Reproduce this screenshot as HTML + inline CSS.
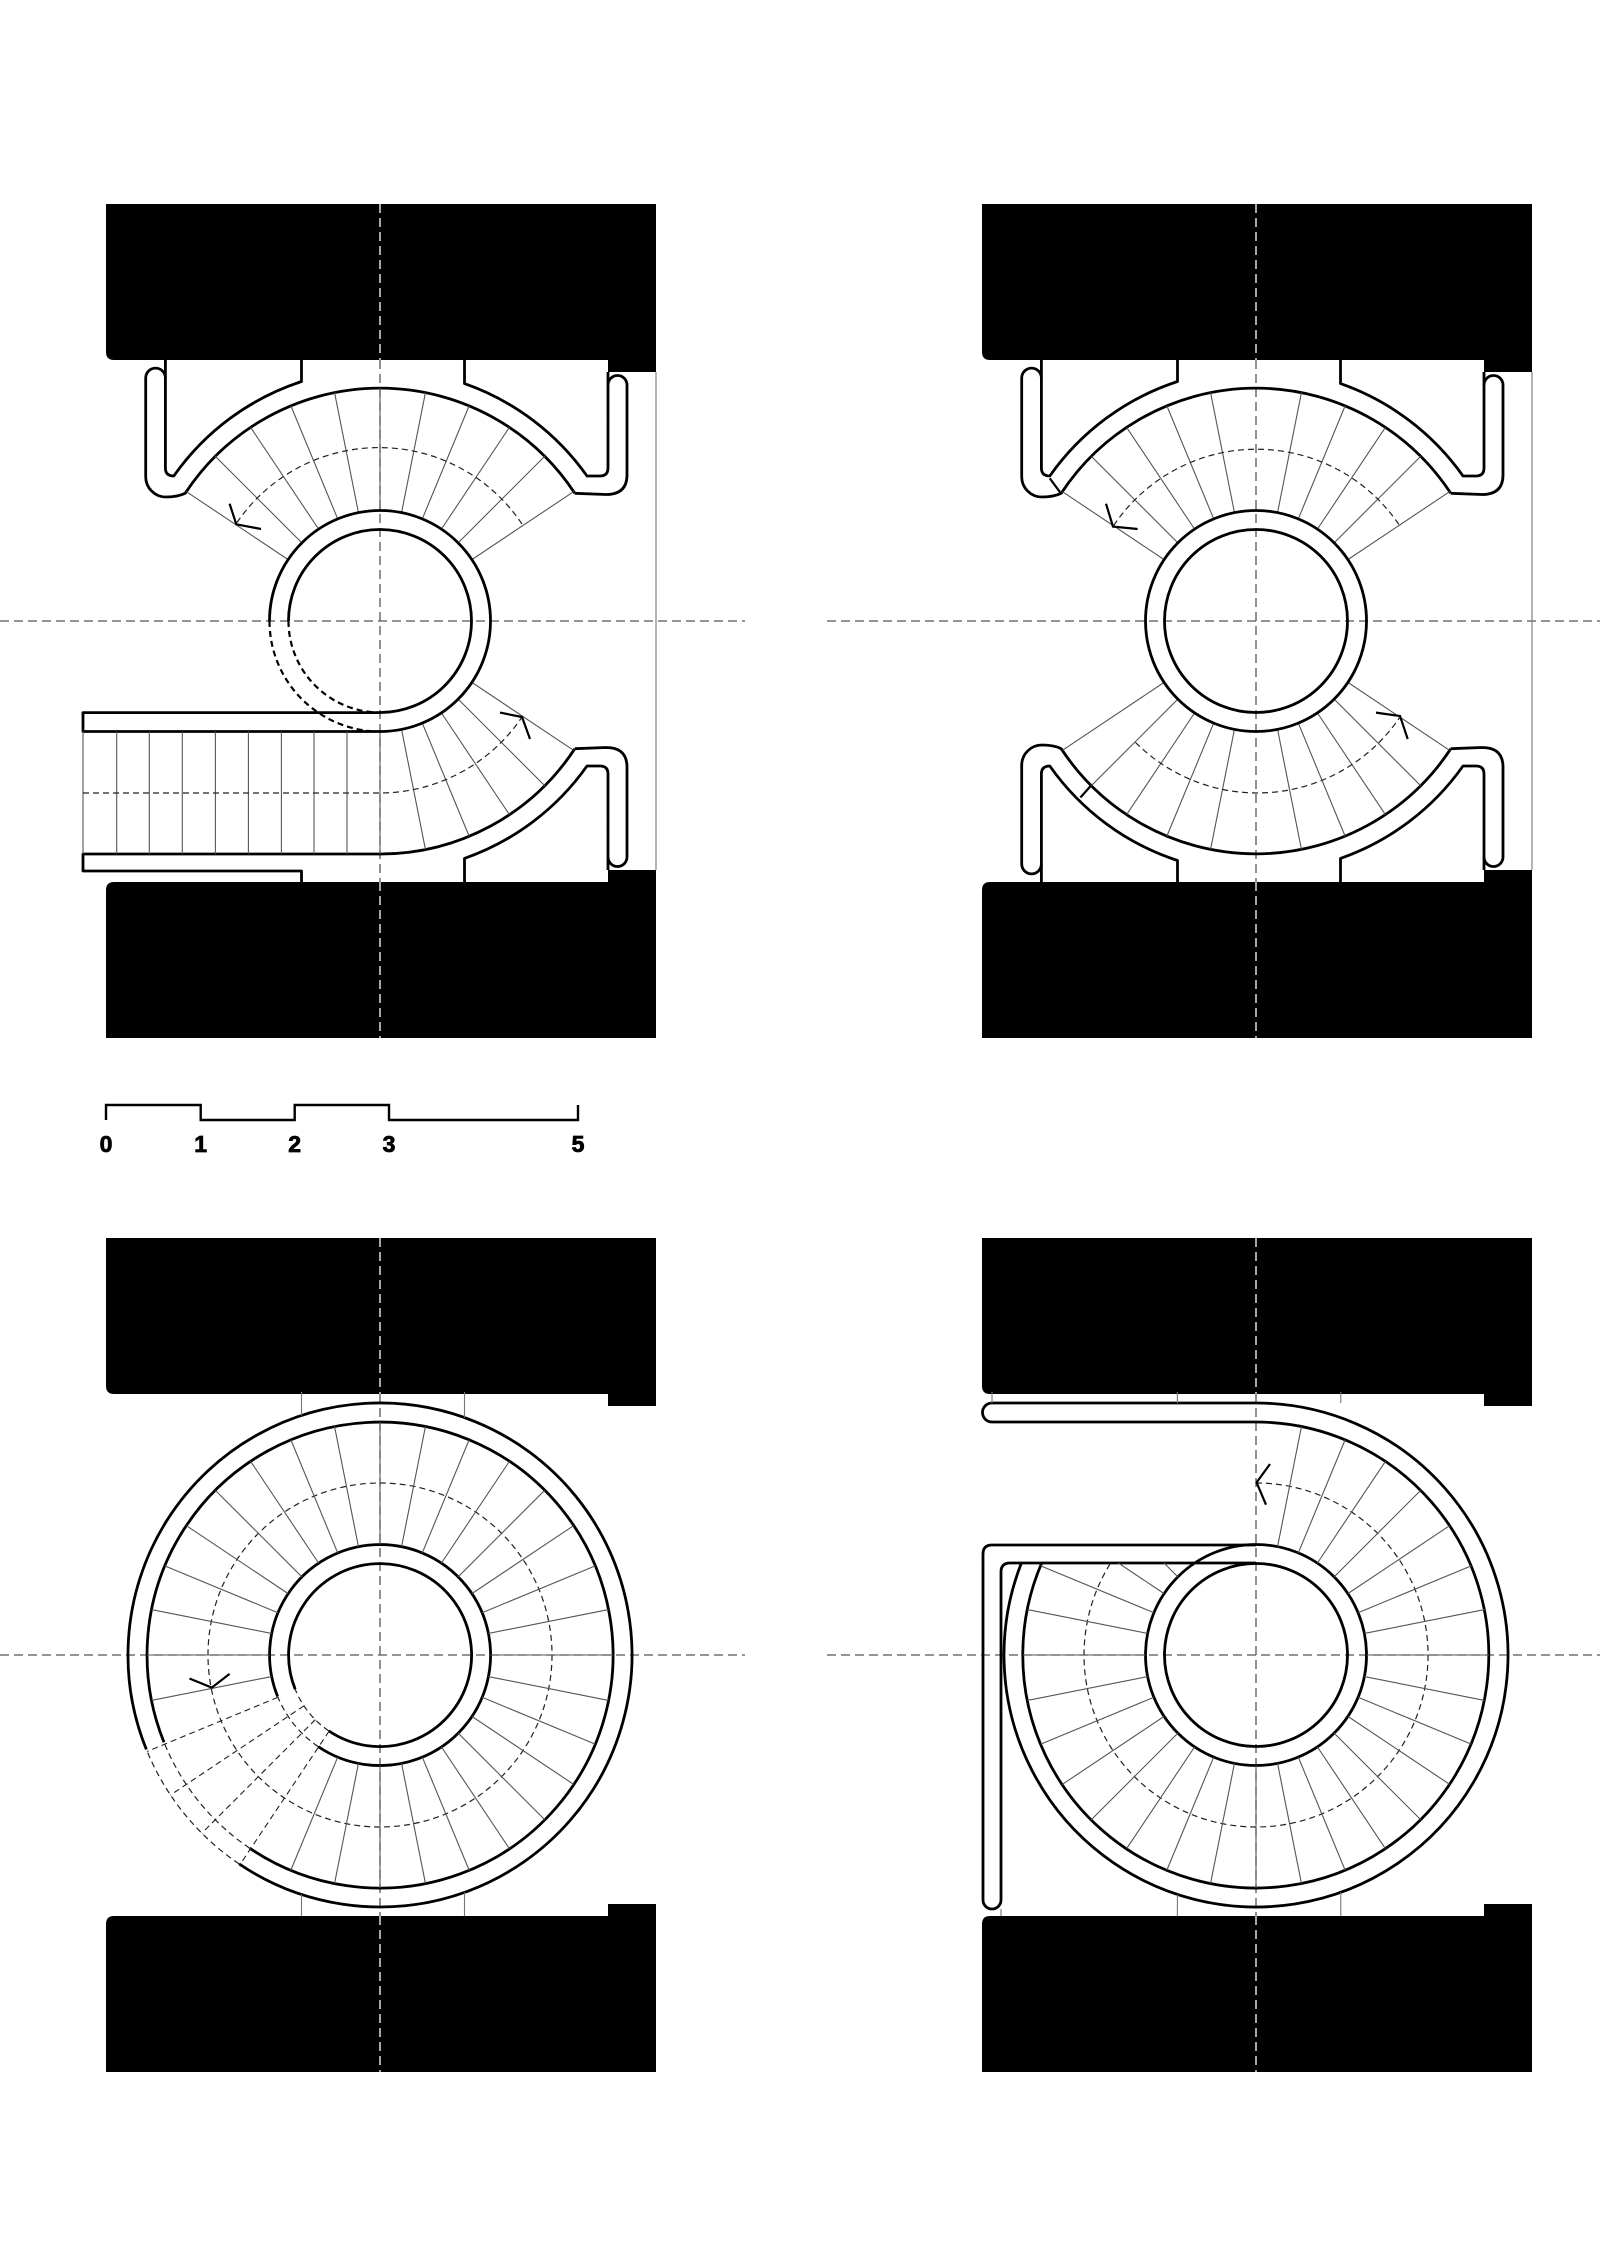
<!DOCTYPE html>
<html><head><meta charset="utf-8"><style>
html,body{margin:0;padding:0;background:#fff;}
svg{display:block;}
.w{fill:none;stroke:#000;stroke-width:2.8;stroke-linejoin:round;}
.t{stroke:#555;stroke-width:1.1;fill:none;}
.td{stroke:#222;stroke-width:1.1;fill:none;stroke-dasharray:6 4;}
.d{fill:none;stroke:#222;stroke-width:1.2;stroke-dasharray:6 4;}
.dw{fill:none;stroke:#000;stroke-width:2.2;stroke-dasharray:6 4;}
.c{stroke:#555;stroke-width:1.3;stroke-dasharray:9 5;fill:none;}
.cw{stroke:#fff;stroke-width:1.3;stroke-dasharray:9 5;fill:none;}
.a{fill:none;stroke:#000;stroke-width:2.2;}
.g{stroke:#777;stroke-width:1.1;fill:none;}
</style></head><body>
<svg width="1600" height="2267" viewBox="0 0 1600 2267" xmlns="http://www.w3.org/2000/svg">
<defs>
<g id="blocks">
  <path d="M106,204 H656 V360 H114 Q106,360 106,352 Z" fill="#000"/>
  <rect x="608" y="359" width="48" height="13" fill="#000"/>
  <path d="M114,882 H656 V1038 H106 V890 Q106,882 114,882 Z" fill="#000"/>
  <rect x="608" y="870" width="48" height="13" fill="#000"/>
  <line x1="380" y1="204" x2="380" y2="360" class="cw"/>
  <line x1="380" y1="882" x2="380" y2="1038" class="cw"/>
  <line x1="380" y1="360" x2="380" y2="882" class="c"/>
</g>
<g id="topband">
  <path class="w" d="M301.5,360 V381.5 A252 252 0 0 0 173.8,476 Q165.4,476 165.4,468 V360"/>
  <path class="w" d="M574.8,493.3 A233 233 0 0 0 185.2,493.3 Q178,497 166,497 A20.3 20.3 0 0 1 145.7,476.7 V378 A9.85 9.85 0 0 1 165.4,378"/>
  <path class="w" d="M574.8,493.3 L606,494.5 Q627,494.5 627,475 V385 A9.5 9.5 0 0 0 608,385"/>
  <path class="w" d="M464.5,360 V383.6 A252 252 0 0 1 587,476 H600 Q608,476 608,468 V372"/>
  <g class="t">
    <line x1="380" y1="510.5" x2="380" y2="388" transform="rotate(11.25 380 621)"/>
    <line x1="380" y1="510.5" x2="380" y2="388" transform="rotate(22.5 380 621)"/>
    <line x1="380" y1="510.5" x2="380" y2="388" transform="rotate(33.75 380 621)"/>
    <line x1="380" y1="510.5" x2="380" y2="388" transform="rotate(45 380 621)"/>
    <line x1="380" y1="510.5" x2="380" y2="388" transform="rotate(56.25 380 621)"/>
    <line x1="380" y1="510.5" x2="380" y2="388" transform="rotate(-11.25 380 621)"/>
    <line x1="380" y1="510.5" x2="380" y2="388" transform="rotate(-22.5 380 621)"/>
    <line x1="380" y1="510.5" x2="380" y2="388" transform="rotate(-33.75 380 621)"/>
    <line x1="380" y1="510.5" x2="380" y2="388" transform="rotate(-45 380 621)"/>
    <line x1="380" y1="510.5" x2="380" y2="388" transform="rotate(-56.25 380 621)"/>
  </g>
</g>
<clipPath id="clip4"><rect x="900" y="1563" width="700" height="400"/></clipPath>
</defs>

<use href="#blocks"/>
<use href="#blocks" transform="translate(876,0)"/>
<use href="#blocks" transform="translate(0,1034)"/>
<use href="#blocks" transform="translate(876,1034)"/>

<line x1="0" y1="621" x2="745" y2="621" class="c"/>
<line x1="827" y1="621" x2="1600" y2="621" class="c"/>
<line x1="0" y1="1655" x2="745" y2="1655" class="c"/>
<line x1="827" y1="1655" x2="1600" y2="1655" class="c"/>

<line x1="656" y1="372" x2="656" y2="870" class="g"/>
<line x1="1532" y1="372" x2="1532" y2="870" class="g"/>

<!-- PANEL 1 -->
<use href="#topband"/>
<path class="w" d="M574.8,748.7 L606,747.5 Q627,747.5 627,767 V857 A9.5 9.5 0 0 1 608,857"/>
<path class="w" d="M574.8,748.7 A233 233 0 0 1 380,854 H83 V871 H301.5 V882"/>
<path class="w" d="M464.5,882 V858.4 A252 252 0 0 0 587,766 H600 Q608,766 608,774 V870"/>
<path class="w" d="M380,712.6 H83 V731.5 H380"/>
<line x1="83" y1="731.5" x2="83" y2="854" class="t"/>
<g class="t">
  <line x1="116.7" y1="731.5" x2="116.7" y2="854"/>
  <line x1="149.3" y1="731.5" x2="149.3" y2="854"/>
  <line x1="182.3" y1="731.5" x2="182.3" y2="854"/>
  <line x1="215.4" y1="731.5" x2="215.4" y2="854"/>
  <line x1="248.4" y1="731.5" x2="248.4" y2="854"/>
  <line x1="281.4" y1="731.5" x2="281.4" y2="854"/>
  <line x1="314" y1="731.5" x2="314" y2="854"/>
  <line x1="347" y1="731.5" x2="347" y2="854"/>
  <line x1="380" y1="731.5" x2="380" y2="854"/>
  <line x1="380" y1="510.5" x2="380" y2="388"/>
  <line x1="380" y1="510.5" x2="380" y2="388" transform="rotate(123.75 380 621)"/>
  <line x1="380" y1="510.5" x2="380" y2="388" transform="rotate(135 380 621)"/>
  <line x1="380" y1="510.5" x2="380" y2="388" transform="rotate(146.25 380 621)"/>
  <line x1="380" y1="510.5" x2="380" y2="388" transform="rotate(157.5 380 621)"/>
  <line x1="380" y1="510.5" x2="380" y2="388" transform="rotate(168.75 380 621)"/>
</g>
<path class="w" d="M380,731.5 A110.5 110.5 0 1 0 269.5,621"/>
<path class="w" d="M380,712.5 A91.5 91.5 0 1 0 288.5,621"/>
<path class="dw" d="M269.5,621 A110.5 110.5 0 0 0 380,731.5"/>
<path class="dw" d="M288.5,621 A91.5 91.5 0 0 0 380,712.5"/>
<path class="d" d="M83,793 H380 A172 172 0 0 0 522,717"/>
<path class="d" d="M522,524 A172 172 0 0 0 236,524"/>
<polyline class="a" points="229.6,503.7 236.3,524.3 261,529"/>
<polyline class="a" points="500,712.6 522,717 530,739"/>

<!-- PANEL 2 -->
<use href="#topband" transform="translate(876,0)"/>
<use href="#topband" transform="translate(876,1242) scale(1,-1)"/>
<circle cx="1256" cy="621" r="110.5" class="w"/>
<circle cx="1256" cy="621" r="91.5" class="w"/>
<line x1="1049.8" y1="478.4" x2="1060" y2="492.2" class="a"/>
<line x1="1080.4" y1="797.5" x2="1090.6" y2="786" class="a"/>
<path class="d" d="M1398.8,524.4 A172 172 0 0 0 1113,526.6"/>
<path class="d" d="M1135.5,742.4 A172 172 0 0 0 1400,717"/>
<polyline class="a" points="1106,503.7 1113,526.6 1137.6,529"/>
<polyline class="a" points="1376,712.6 1400,716 1407.7,739"/>

<!-- SCALE BAR -->
<path d="M106,1120 V1105 H200.7 V1120 H294.7 V1105 H389 V1120 H578 V1105" fill="none" stroke="#000" stroke-width="2.4"/>
<g font-family="'Liberation Sans', sans-serif" font-weight="900" font-size="23" text-anchor="middle" fill="#000" stroke="#000" stroke-width="0.8">
  <text x="106" y="1152">0</text>
  <text x="200.7" y="1152">1</text>
  <text x="294.7" y="1152">2</text>
  <text x="389" y="1152">3</text>
  <text x="578" y="1152">5</text>
</g>

<!-- PANEL 3 -->
<path class="w" d="M146.4,1749.5 A252 252 0 1 1 239.1,1863.9"/>
<path class="d" d="M239.1,1863.9 A252 252 0 0 1 146.4,1749.5"/>
<path class="w" d="M164,1742.3 A233 233 0 1 1 249.7,1848.2"/>
<path class="d" d="M249.7,1848.2 A233 233 0 0 1 164,1742.3"/>
<path class="w" d="M277.6,1696.4 A110.5 110.5 0 1 1 318.2,1746.6"/>
<path class="d" d="M318.2,1746.6 A110.5 110.5 0 0 1 277.6,1696.4"/>
<path class="w" d="M295.2,1689.3 A91.5 91.5 0 1 1 328.8,1730.9"/>
<path class="d" d="M328.8,1730.9 A91.5 91.5 0 0 1 295.2,1689.3"/>
<circle cx="380" cy="1655" r="172" class="d"/>
<g class="t">
  <line x1="380" y1="1544.5" x2="380" y2="1422" transform="rotate(0 380 1655)"/>
  <line x1="380" y1="1544.5" x2="380" y2="1422" transform="rotate(11.25 380 1655)"/>
  <line x1="380" y1="1544.5" x2="380" y2="1422" transform="rotate(22.5 380 1655)"/>
  <line x1="380" y1="1544.5" x2="380" y2="1422" transform="rotate(33.75 380 1655)"/>
  <line x1="380" y1="1544.5" x2="380" y2="1422" transform="rotate(45 380 1655)"/>
  <line x1="380" y1="1544.5" x2="380" y2="1422" transform="rotate(56.25 380 1655)"/>
  <line x1="380" y1="1544.5" x2="380" y2="1422" transform="rotate(67.5 380 1655)"/>
  <line x1="380" y1="1544.5" x2="380" y2="1422" transform="rotate(78.75 380 1655)"/>
  <line x1="380" y1="1544.5" x2="380" y2="1422" transform="rotate(90 380 1655)"/>
  <line x1="380" y1="1544.5" x2="380" y2="1422" transform="rotate(101.25 380 1655)"/>
  <line x1="380" y1="1544.5" x2="380" y2="1422" transform="rotate(112.5 380 1655)"/>
  <line x1="380" y1="1544.5" x2="380" y2="1422" transform="rotate(123.75 380 1655)"/>
  <line x1="380" y1="1544.5" x2="380" y2="1422" transform="rotate(135 380 1655)"/>
  <line x1="380" y1="1544.5" x2="380" y2="1422" transform="rotate(146.25 380 1655)"/>
  <line x1="380" y1="1544.5" x2="380" y2="1422" transform="rotate(157.5 380 1655)"/>
  <line x1="380" y1="1544.5" x2="380" y2="1422" transform="rotate(168.75 380 1655)"/>
  <line x1="380" y1="1544.5" x2="380" y2="1422" transform="rotate(180 380 1655)"/>
  <line x1="380" y1="1544.5" x2="380" y2="1422" transform="rotate(191.25 380 1655)"/>
  <line x1="380" y1="1544.5" x2="380" y2="1422" transform="rotate(202.5 380 1655)"/>
  <line x1="380" y1="1544.5" x2="380" y2="1422" transform="rotate(258.75 380 1655)"/>
  <line x1="380" y1="1544.5" x2="380" y2="1422" transform="rotate(270 380 1655)"/>
  <line x1="380" y1="1544.5" x2="380" y2="1422" transform="rotate(281.25 380 1655)"/>
  <line x1="380" y1="1544.5" x2="380" y2="1422" transform="rotate(292.5 380 1655)"/>
  <line x1="380" y1="1544.5" x2="380" y2="1422" transform="rotate(303.75 380 1655)"/>
  <line x1="380" y1="1544.5" x2="380" y2="1422" transform="rotate(315 380 1655)"/>
  <line x1="380" y1="1544.5" x2="380" y2="1422" transform="rotate(326.25 380 1655)"/>
  <line x1="380" y1="1544.5" x2="380" y2="1422" transform="rotate(337.5 380 1655)"/>
  <line x1="380" y1="1544.5" x2="380" y2="1422" transform="rotate(348.75 380 1655)"/>
</g>
<g class="td">
  <line x1="380" y1="1563.5" x2="380" y2="1403" transform="rotate(213.75 380 1655)"/>
  <line x1="380" y1="1563.5" x2="380" y2="1403" transform="rotate(225 380 1655)"/>
  <line x1="380" y1="1563.5" x2="380" y2="1403" transform="rotate(236.25 380 1655)"/>
  <line x1="380" y1="1544.5" x2="380" y2="1403" transform="rotate(247.5 380 1655)"/>
</g>
<polyline class="a" points="189.5,1678.5 211.8,1687.6 229.6,1673.9"/>
<g class="g">
  <line x1="301.5" y1="1392" x2="301.5" y2="1415.5"/>
  <line x1="464.5" y1="1392" x2="464.5" y2="1417.6"/>
  <line x1="301.5" y1="1894.5" x2="301.5" y2="1916"/>
  <line x1="464.5" y1="1892.4" x2="464.5" y2="1916"/>
</g>

<!-- PANEL 4 -->
<path class="w" d="M992,1403 H1256 A252 252 0 1 1 1021.4,1563"/>
<path class="w" d="M992,1422 H1256 A233 233 0 1 1 1041.7,1563"/>
<path class="w" d="M992,1403 A9.5 9.5 0 0 0 992,1422"/>
<path class="w" d="M1256,1545 H992 Q983,1545 983,1554 V1900 A9 9 0 0 0 1001,1900 V1572 Q1001,1563 1010,1563 H1256"/>
<circle cx="1256" cy="1655" r="110.5" class="w"/>
<circle cx="1256" cy="1655" r="91.5" class="w"/>
<path class="d" d="M1256,1483 A172 172 0 1 1 1110.7,1563"/>
<polyline class="a" points="1270,1464 1256.6,1482.5 1266,1504.7"/>
<g class="t">
  <line x1="1256" y1="1544.5" x2="1256" y2="1422" transform="rotate(11.25 1256 1655)"/>
  <line x1="1256" y1="1544.5" x2="1256" y2="1422" transform="rotate(22.5 1256 1655)"/>
  <line x1="1256" y1="1544.5" x2="1256" y2="1422" transform="rotate(33.75 1256 1655)"/>
  <line x1="1256" y1="1544.5" x2="1256" y2="1422" transform="rotate(45 1256 1655)"/>
  <line x1="1256" y1="1544.5" x2="1256" y2="1422" transform="rotate(56.25 1256 1655)"/>
  <line x1="1256" y1="1544.5" x2="1256" y2="1422" transform="rotate(67.5 1256 1655)"/>
  <line x1="1256" y1="1544.5" x2="1256" y2="1422" transform="rotate(78.75 1256 1655)"/>
  <line x1="1256" y1="1544.5" x2="1256" y2="1422" transform="rotate(90 1256 1655)"/>
  <line x1="1256" y1="1544.5" x2="1256" y2="1422" transform="rotate(101.25 1256 1655)"/>
  <line x1="1256" y1="1544.5" x2="1256" y2="1422" transform="rotate(112.5 1256 1655)"/>
  <line x1="1256" y1="1544.5" x2="1256" y2="1422" transform="rotate(123.75 1256 1655)"/>
  <line x1="1256" y1="1544.5" x2="1256" y2="1422" transform="rotate(135 1256 1655)"/>
  <line x1="1256" y1="1544.5" x2="1256" y2="1422" transform="rotate(146.25 1256 1655)"/>
  <line x1="1256" y1="1544.5" x2="1256" y2="1422" transform="rotate(157.5 1256 1655)"/>
  <line x1="1256" y1="1544.5" x2="1256" y2="1422" transform="rotate(168.75 1256 1655)"/>
  <line x1="1256" y1="1544.5" x2="1256" y2="1422" transform="rotate(180 1256 1655)"/>
  <line x1="1256" y1="1544.5" x2="1256" y2="1422" transform="rotate(191.25 1256 1655)"/>
  <line x1="1256" y1="1544.5" x2="1256" y2="1422" transform="rotate(202.5 1256 1655)"/>
  <line x1="1256" y1="1544.5" x2="1256" y2="1422" transform="rotate(213.75 1256 1655)"/>
  <line x1="1256" y1="1544.5" x2="1256" y2="1422" transform="rotate(225 1256 1655)"/>
  <line x1="1256" y1="1544.5" x2="1256" y2="1422" transform="rotate(236.25 1256 1655)"/>
  <line x1="1256" y1="1544.5" x2="1256" y2="1422" transform="rotate(247.5 1256 1655)"/>
  <line x1="1256" y1="1544.5" x2="1256" y2="1422" transform="rotate(258.75 1256 1655)"/>
  <line x1="1256" y1="1544.5" x2="1256" y2="1422" transform="rotate(270 1256 1655)"/>
  <line x1="1256" y1="1544.5" x2="1256" y2="1422" transform="rotate(281.25 1256 1655)"/>
</g>
<g class="t" clip-path="url(#clip4)">
  <line x1="1256" y1="1544.5" x2="1256" y2="1422" transform="rotate(292.5 1256 1655)"/>
  <line x1="1256" y1="1544.5" x2="1256" y2="1422" transform="rotate(303.75 1256 1655)"/>
  <line x1="1256" y1="1544.5" x2="1256" y2="1422" transform="rotate(315 1256 1655)"/>
  <line x1="1256" y1="1544.5" x2="1256" y2="1422" transform="rotate(326.25 1256 1655)"/>
</g>
<g class="g">
  <line x1="992" y1="1392" x2="992" y2="1403"/>
  <line x1="1177.4" y1="1392" x2="1177.4" y2="1403"/>
  <line x1="1340.8" y1="1392" x2="1340.8" y2="1403"/>
  <line x1="1177.4" y1="1894.4" x2="1177.4" y2="1916"/>
  <line x1="1340.8" y1="1892.3" x2="1340.8" y2="1916"/>
  <line x1="1001" y1="1909" x2="1001" y2="1916"/>
</g>
</svg>
</body></html>
